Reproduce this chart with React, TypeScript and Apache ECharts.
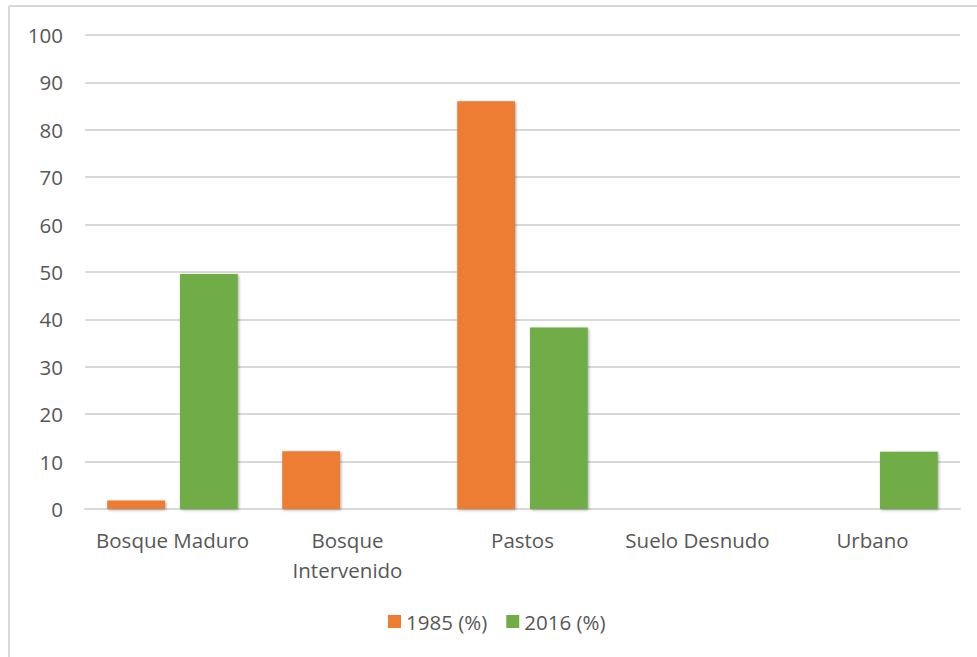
import React, { useEffect, useRef } from "react";
import * as echarts from "echarts";

const categories = ["Bosque Maduro", "Bosque Intervenido", "Pastos", "Suelo Desnudo", "Urbano"];
const series1985 = [1.8, 12.2, 86.0, 0, 0];
const series2016 = [49.6, 0, 38.3, 0, 12.1];
const seriesNames = ["1985 (%)", "2016 (%)"];

const FONT = "'Open Sans', sans-serif";
const TEXT = "#575757";
const FS = 20.5;

export default function App() {
  const ref = useRef<HTMLDivElement>(null);
  useEffect(() => {
    if (!ref.current) return;
    const chart = echarts.init(ref.current, undefined, { renderer: "svg" });
    const barStyle = (color: string) => ({
      color,
      shadowBlur: 3,
      shadowColor: "rgba(0,0,0,0.35)",
      shadowOffsetX: 1,
      shadowOffsetY: 1,
    });
    chart.setOption({
      animation: false,
      backgroundColor: "#fff",
      textStyle: { fontFamily: FONT },
      grid: { left: 85, right: 17, top: 35, bottom: 148, containLabel: false },
      legend: {
        data: seriesNames,
        left: 388,
        top: 611,
        padding: 0,
        itemWidth: 13,
        itemHeight: 13,
        itemGap: 19,
        icon: "rect",
        textStyle: { fontFamily: FONT, fontSize: FS, color: TEXT, lineHeight: 20 },
      },
      xAxis: {
        type: "category",
        data: categories,
        axisLine: { show: true, lineStyle: { color: "#d9d9d9", width: 2 } },
        axisTick: { show: false },
        axisLabel: {
          interval: 0,
          margin: 16,
          fontFamily: FONT,
          fontSize: FS,
          color: TEXT,
          lineHeight: 30,
          formatter: (v: string) => (v === "Bosque Intervenido" ? "Bosque\nIntervenido" : v),
        },
      },
      yAxis: {
        type: "value",
        min: 0,
        max: 100,
        interval: 10,
        axisLine: { show: false },
        axisTick: { show: false },
        splitLine: { lineStyle: { color: "#d9d9d9", width: 2 } },
        axisLabel: { fontFamily: FONT, fontSize: FS, color: TEXT, margin: 22 },
      },
      series: [
        {
          name: seriesNames[0],
          type: "bar",
          data: series1985,
          barWidth: "33%",
          barGap: "26%",
          itemStyle: barStyle("#ED7D31"),
        },
        {
          name: seriesNames[1],
          type: "bar",
          data: series2016,
          barWidth: "33%",
          barGap: "26%",
          itemStyle: barStyle("#70AD47"),
        },
      ],
      graphic: [
        { type: "line", shape: { x1: 9, y1: 6, x2: 977, y2: 6 }, style: { stroke: "#d9d9d9", lineWidth: 2 } },
        { type: "line", shape: { x1: 9, y1: 6, x2: 9, y2: 657 }, style: { stroke: "#d9d9d9", lineWidth: 2 } },
      ],
    });
    return () => chart.dispose();
  }, []);
  return (
    <div
      ref={ref}
      style={{ position: "absolute", left: 0, top: 0, width: 977, height: 657 }}
    />
  );
}
